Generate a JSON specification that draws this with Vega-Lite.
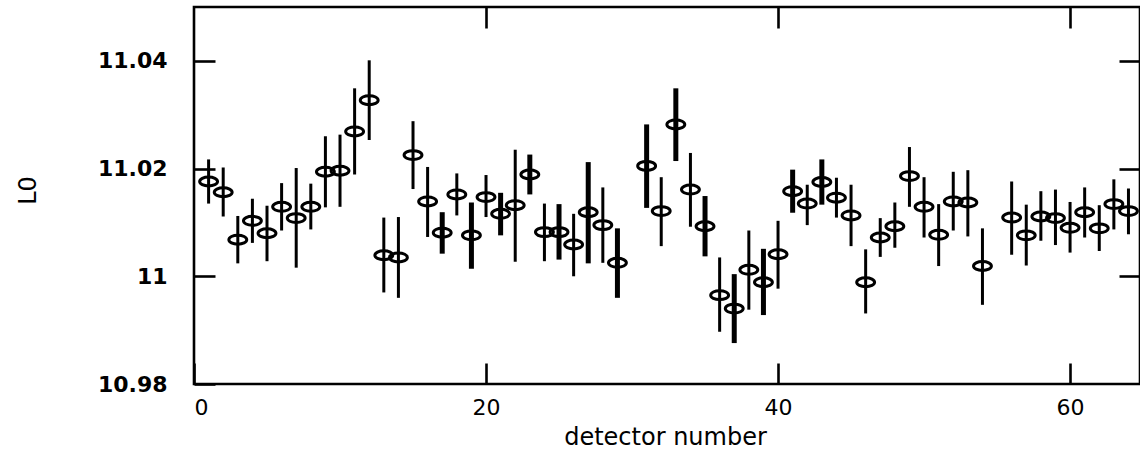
{
  "$schema": "https://vega.github.io/schema/vega-lite/v6.json",
  "autosize": "none",
  "width": 946,
  "height": 377,
  "padding": {"left": 194, "top": 7, "right": 0, "bottom": 75},
  "background": "white",
  "config": {
    "view": {"stroke": "black", "strokeWidth": 2.6},
    "axis": {"grid": false, "domain": false, "tickColor": "black", "tickWidth": 2.6, "labelColor": "black", "titleColor": "black"}
  },
  "data": {
    "values": [
      {"detector": 1, "L0": 11.0176, "lo": 11.0135, "hi": 11.0217, "set": "1"},
      {"detector": 2, "L0": 11.0156, "lo": 11.0111, "hi": 11.0202, "set": "1"},
      {"detector": 3, "L0": 11.0068, "lo": 11.0024, "hi": 11.0112, "set": "1"},
      {"detector": 4, "L0": 11.0103, "lo": 11.0062, "hi": 11.0144, "set": "1"},
      {"detector": 5, "L0": 11.0080, "lo": 11.0028, "hi": 11.0131, "set": "1"},
      {"detector": 6, "L0": 11.0129, "lo": 11.0085, "hi": 11.0173, "set": "1"},
      {"detector": 7, "L0": 11.0108, "lo": 11.0016, "hi": 11.0201, "set": "1"},
      {"detector": 8, "L0": 11.0129, "lo": 11.0087, "hi": 11.0172, "set": "1"},
      {"detector": 9, "L0": 11.0194, "lo": 11.0128, "hi": 11.0260, "set": "1"},
      {"detector": 10, "L0": 11.0196, "lo": 11.0129, "hi": 11.0263, "set": "1"},
      {"detector": 11, "L0": 11.0269, "lo": 11.0189, "hi": 11.0349, "set": "1"},
      {"detector": 12, "L0": 11.0327, "lo": 11.0253, "hi": 11.0401, "set": "1"},
      {"detector": 13, "L0": 11.0039, "lo": 10.9970, "hi": 11.0109, "set": "1"},
      {"detector": 14, "L0": 11.0035, "lo": 10.9960, "hi": 11.0110, "set": "1"},
      {"detector": 15, "L0": 11.0225, "lo": 11.0162, "hi": 11.0288, "set": "1"},
      {"detector": 16, "L0": 11.0139, "lo": 11.0073, "hi": 11.0203, "set": "1"},
      {"detector": 17, "L0": 11.0081, "lo": 11.0042, "hi": 11.0119, "set": "2"},
      {"detector": 18, "L0": 11.0152, "lo": 11.0113, "hi": 11.0191, "set": "1"},
      {"detector": 19, "L0": 11.0076, "lo": 11.0014, "hi": 11.0137, "set": "2"},
      {"detector": 20, "L0": 11.0147, "lo": 11.0110, "hi": 11.0188, "set": "1"},
      {"detector": 21, "L0": 11.0116, "lo": 11.0076, "hi": 11.0155, "set": "2"},
      {"detector": 22, "L0": 11.0132, "lo": 11.0027, "hi": 11.0235, "set": "1"},
      {"detector": 23, "L0": 11.0189, "lo": 11.0152, "hi": 11.0226, "set": "2"},
      {"detector": 24, "L0": 11.0082, "lo": 11.0028, "hi": 11.0135, "set": "1"},
      {"detector": 25, "L0": 11.0082, "lo": 11.0031, "hi": 11.0134, "set": "2"},
      {"detector": 26, "L0": 11.0059, "lo": 11.0000, "hi": 11.0116, "set": "1"},
      {"detector": 27, "L0": 11.0119, "lo": 11.0024, "hi": 11.0212, "set": "2"},
      {"detector": 28, "L0": 11.0095, "lo": 11.0025, "hi": 11.0165, "set": "1"},
      {"detector": 29, "L0": 11.0025, "lo": 10.9960, "hi": 11.0089, "set": "2"},
      {"detector": 31, "L0": 11.0205, "lo": 11.0127, "hi": 11.0282, "set": "2"},
      {"detector": 32, "L0": 11.0121, "lo": 11.0056, "hi": 11.0184, "set": "1"},
      {"detector": 33, "L0": 11.0282, "lo": 11.0214, "hi": 11.0349, "set": "2"},
      {"detector": 34, "L0": 11.0161, "lo": 11.0092, "hi": 11.0229, "set": "1"},
      {"detector": 35, "L0": 11.0093, "lo": 11.0037, "hi": 11.0149, "set": "2"},
      {"detector": 36, "L0": 10.9965, "lo": 10.9897, "hi": 11.0035, "set": "1"},
      {"detector": 37, "L0": 10.9940, "lo": 10.9876, "hi": 11.0004, "set": "2"},
      {"detector": 38, "L0": 11.0012, "lo": 10.9938, "hi": 11.0085, "set": "1"},
      {"detector": 39, "L0": 10.9989, "lo": 10.9928, "hi": 11.0051, "set": "2"},
      {"detector": 40, "L0": 11.0041, "lo": 10.9977, "hi": 11.0103, "set": "1"},
      {"detector": 41, "L0": 11.0158, "lo": 11.0118, "hi": 11.0198, "set": "2"},
      {"detector": 42, "L0": 11.0135, "lo": 11.0095, "hi": 11.0170, "set": "1"},
      {"detector": 43, "L0": 11.0175, "lo": 11.0133, "hi": 11.0217, "set": "2"},
      {"detector": 44, "L0": 11.0146, "lo": 11.0109, "hi": 11.0183, "set": "1"},
      {"detector": 45, "L0": 11.0113, "lo": 11.0056, "hi": 11.0170, "set": "1"},
      {"detector": 46, "L0": 10.9989, "lo": 10.9931, "hi": 11.0050, "set": "1"},
      {"detector": 47, "L0": 11.0072, "lo": 11.0036, "hi": 11.0108, "set": "1"},
      {"detector": 48, "L0": 11.0093, "lo": 11.0053, "hi": 11.0137, "set": "1"},
      {"detector": 49, "L0": 11.0186, "lo": 11.0129, "hi": 11.0240, "set": "1"},
      {"detector": 50, "L0": 11.0129, "lo": 11.0072, "hi": 11.0184, "set": "1"},
      {"detector": 51, "L0": 11.0077, "lo": 11.0019, "hi": 11.0134, "set": "1"},
      {"detector": 52, "L0": 11.0139, "lo": 11.0085, "hi": 11.0194, "set": "1"},
      {"detector": 53, "L0": 11.0137, "lo": 11.0074, "hi": 11.0197, "set": "1"},
      {"detector": 54, "L0": 11.0019, "lo": 10.9947, "hi": 11.0089, "set": "1"},
      {"detector": 56, "L0": 11.0109, "lo": 11.0040, "hi": 11.0176, "set": "1"},
      {"detector": 57, "L0": 11.0076, "lo": 11.0020, "hi": 11.0133, "set": "1"},
      {"detector": 58, "L0": 11.0111, "lo": 11.0066, "hi": 11.0158, "set": "1"},
      {"detector": 59, "L0": 11.0108, "lo": 11.0058, "hi": 11.0161, "set": "1"},
      {"detector": 60, "L0": 11.0090, "lo": 11.0044, "hi": 11.0138, "set": "1"},
      {"detector": 61, "L0": 11.0119, "lo": 11.0072, "hi": 11.0165, "set": "1"},
      {"detector": 62, "L0": 11.0089, "lo": 11.0047, "hi": 11.0132, "set": "1"},
      {"detector": 63, "L0": 11.0134, "lo": 11.0087, "hi": 11.0180, "set": "1"},
      {"detector": 64, "L0": 11.0121, "lo": 11.0078, "hi": 11.0163, "set": "1"}
    ]
  },
  "resolve": {"axis": {"x": "independent", "y": "independent"}},
  "layer": [
    {
      "mark": {"type": "rule", "color": "black", "strokeCap": "butt"},
      "encoding": {
        "x": {
          "field": "detector", "type": "quantitative",
          "scale": {"domain": [0, 64.79], "nice": false, "zero": false},
          "axis": {
            "orient": "bottom", "values": [0, 20, 40, 60], "offset": -21, "tickSize": 21,
            "labelFont": "DejaVu Sans", "labelFontSize": 22, "labelPadding": 13,
            "title": "detector number", "titleFont": "DejaVu Sans", "titleFontSize": 24, "titleFontWeight": "normal",
            "titleX": 471, "titleY": 74, "titleBaseline": "middle"
          }
        },
        "y": {
          "field": "lo", "type": "quantitative",
          "scale": {"domain": [10.98, 11.05], "nice": false, "zero": false},
          "axis": {
            "orient": "left", "values": [10.98, 11, 11.02, 11.04], "offset": -21, "tickSize": 21,
            "labelExpr": "format(datum.value, '.4~g')",
            "labelFont": "DejaVu Sans", "labelFontWeight": "bold", "labelFontSize": 22, "labelPadding": 27,
            "title": "L0", "titleFont": "DejaVu Sans", "titleFontSize": 24, "titleFontWeight": "normal",
            "titleX": -187, "titleY": 183, "titleAngle": -90, "titleBaseline": "middle", "titleAlign": "center"
          }
        },
        "y2": {"field": "hi"},
        "strokeWidth": {"field": "set", "type": "nominal", "scale": {"domain": ["1", "2"], "range": [3, 5]}, "legend": null}
      }
    },
    {
      "mark": {
        "type": "point", "filled": false, "color": "black", "strokeWidth": 3, "opacity": 1, "size": 320,
        "shape": "M-1,0A1,0.5 0 1,0 1,0A1,0.5 0 1,0 -1,0Z"
      },
      "encoding": {
        "x": {
          "field": "detector", "type": "quantitative",
          "axis": {"orient": "top", "values": [20, 40, 60], "offset": -21, "tickSize": 21, "labels": false, "title": null}
        },
        "y": {
          "field": "L0", "type": "quantitative",
          "axis": {"orient": "right", "values": [11, 11.02, 11.04], "offset": -21, "tickSize": 21, "labels": false, "title": null}
        }
      }
    }
  ]
}
